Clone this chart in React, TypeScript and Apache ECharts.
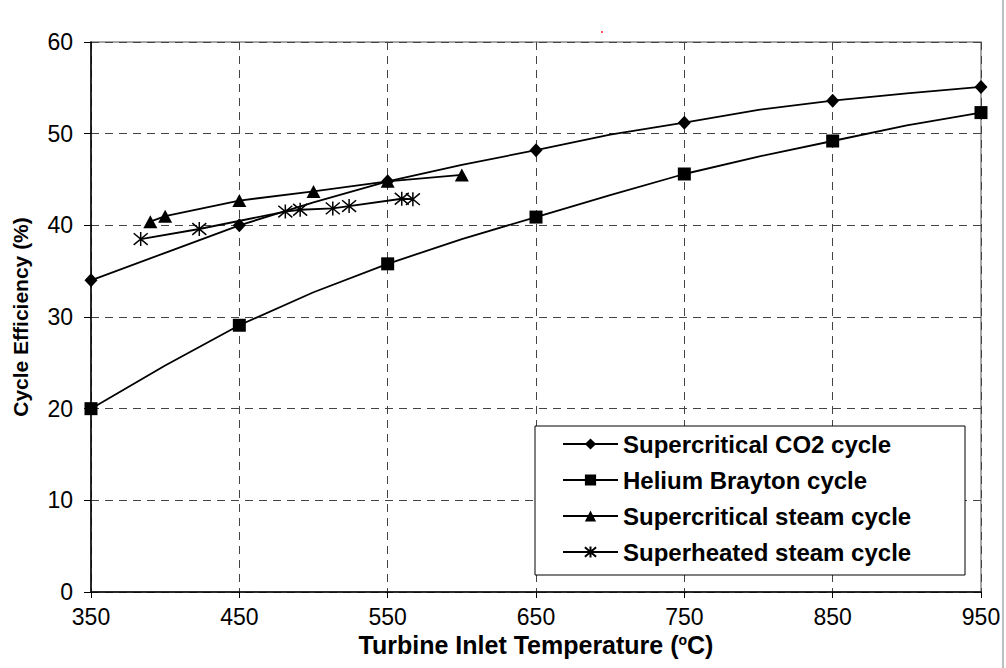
import React, { useEffect, useRef } from "react";
import * as echarts from "echarts";

// ---------- data ----------
const X_TICKS_START = 350; // first tick label on the temperature axis
const Y_TICKS = [0, 10, 20, 30, 40, 50, 60];

const CO2_T = [350, 400, 450, 500, 550, 600, 650, 700, 750, 800, 850, 900, 950];
const CO2_EFF = [34.0, 37.0, 40.0, 42.5, 44.8, 46.6, 48.2, 49.9, 51.2, 52.6, 53.6, 54.4, 55.1];

const HE_T = [350, 400, 450, 500, 550, 600, 650, 700, 750, 800, 850, 900, 950];
const HE_EFF = [20.0, 24.7, 29.1, 32.7, 35.8, 38.5, 40.9, 43.3, 45.6, 47.5, 49.2, 50.9, 52.3];

const SC_STEAM_T = [390, 400, 450, 500, 550, 600];
const SC_STEAM_EFF = [40.4, 41.0, 42.7, 43.7, 44.8, 45.5];

const SH_STEAM_T = [383.5, 423, 481, 491, 513, 524, 559.5, 567];
const SH_STEAM_EFF = [38.5, 39.6, 41.5, 41.7, 41.85, 42.1, 42.9, 42.85];

const SERIES_NAMES = [
  "Supercritical CO2 cycle",
  "Helium Brayton cycle",
  "Supercritical steam cycle",
  "Superheated steam cycle",
];

const FONT = "'Liberation Sans', Arial, sans-serif";
const STAR = "path://M0,0L10,10M10,0L0,10M5,-1L5,11";

// markers only on the 350, 450, ... points of the curves; other points are unmarked
function curve(ts: number[], vs: number[], markedEvery?: boolean) {
  return ts.map((t, i) => {
    const item: any = { value: [t - X_TICKS_START, vs[i]] };
    if (markedEvery && (t - X_TICKS_START) % 100 !== 0) item.symbol = "none";
    return item;
  });
}

export default function App() {
  const ref = useRef<HTMLDivElement>(null);

  useEffect(() => {
    if (!ref.current) return;
    const chart = echarts.init(ref.current, undefined, { renderer: "svg" });

    const lineStyle = { color: "#000", width: 1.8 };
    const option: any = {
      animation: false,
      backgroundColor: "#fff",
      grid: {
        left: 91,
        top: 42,
        right: 25,
        bottom: 76,
        show: true,
        borderColor: "#8a8a8a",
        borderWidth: 1.5,
        backgroundColor: "transparent",
      },
      xAxis: {
        type: "value",
        min: 0,
        max: 600,
        interval: 100,
        axisLine: { show: true, lineStyle: { color: "#000", width: 1.5 } },
        axisTick: { show: true, length: 6, lineStyle: { color: "#000" } },
        axisLabel: {
          margin: 13,
          color: "#000",
          fontFamily: FONT,
          fontSize: 23,
          formatter: (v: number) => String(v + X_TICKS_START),
        },
        splitLine: { show: true, lineStyle: { color: "#444", type: [8, 6], width: 1 } },
        name: "Turbine Inlet Temperature ({sup|o}C)",
        nameLocation: "middle",
        nameGap: 35,
        nameTextStyle: {
          color: "#000",
          fontFamily: FONT,
          fontSize: 25,
          fontWeight: "bold",
          rich: {
            sup: {
              fontFamily: FONT,
              fontSize: 14,
              fontWeight: "bold",
              color: "#000",
              padding: [0, 0, 11, 0],
            },
          },
        },
      },
      yAxis: {
        type: "value",
        min: Y_TICKS[0],
        max: Y_TICKS[Y_TICKS.length - 1],
        interval: 10,
        axisLine: { show: true, lineStyle: { color: "#000", width: 1.5 } },
        axisTick: { show: true, length: 7, lineStyle: { color: "#000" } },
        axisLabel: { margin: 18, color: "#000", fontFamily: FONT, fontSize: 23 },
        splitLine: { show: true, lineStyle: { color: "#444", type: [8, 6], width: 1 } },
        name: "Cycle Efficiency (%)",
        nameLocation: "middle",
        nameGap: 60,
        nameTextStyle: { color: "#000", fontFamily: FONT, fontSize: 21, fontWeight: "bold" },
      },
      legend: {
        orient: "vertical",
        left: 562,
        top: 432,
        padding: 0,
        itemWidth: 55,
        itemHeight: 14,
        itemGap: 12,
        z: 5,
        data: SERIES_NAMES,
        textStyle: { color: "#000", fontFamily: FONT, fontSize: 24, fontWeight: "bold" },
      },
      graphic: [
        {
          type: "rect",
          z: 3,
          shape: { x: 535, y: 426, width: 430, height: 149 },
          style: { fill: "#fff", stroke: "#000", lineWidth: 1 },
        },
        {
          type: "line",
          z: 3,
          shape: { x1: 1003, y1: 0, x2: 1003, y2: 668 },
          style: { stroke: "#aaa", lineWidth: 1.5 },
        },
        {
          type: "rect",
          z: 3,
          shape: { x: 601, y: 31, width: 2, height: 2 },
          style: { fill: "#f55" },
        },
      ],
      series: [
        {
          name: SERIES_NAMES[0],
          type: "line",
          data: curve(CO2_T, CO2_EFF, true),
          symbol: "diamond",
          symbolSize: [13, 14],
          itemStyle: { color: "#000" },
          lineStyle,
        },
        {
          name: SERIES_NAMES[1],
          type: "line",
          data: curve(HE_T, HE_EFF, true),
          symbol: "rect",
          symbolSize: 13,
          itemStyle: { color: "#000" },
          lineStyle,
        },
        {
          name: SERIES_NAMES[2],
          type: "line",
          data: curve(SC_STEAM_T, SC_STEAM_EFF),
          symbol: "triangle",
          symbolSize: [14, 13],
          itemStyle: { color: "#000" },
          lineStyle,
        },
        {
          name: SERIES_NAMES[3],
          type: "line",
          data: curve(SH_STEAM_T, SH_STEAM_EFF),
          symbol: STAR,
          symbolSize: 14,
          itemStyle: { color: "#000", borderColor: "#000", borderWidth: 1.5 },
          lineStyle,
        },
      ],
    };

    chart.setOption(option);
    return () => chart.dispose();
  }, []);

  return (
    <div
      ref={ref}
      style={{ position: "fixed", left: 0, top: 0, width: 1006, height: 668, background: "#fff" }}
    />
  );
}
